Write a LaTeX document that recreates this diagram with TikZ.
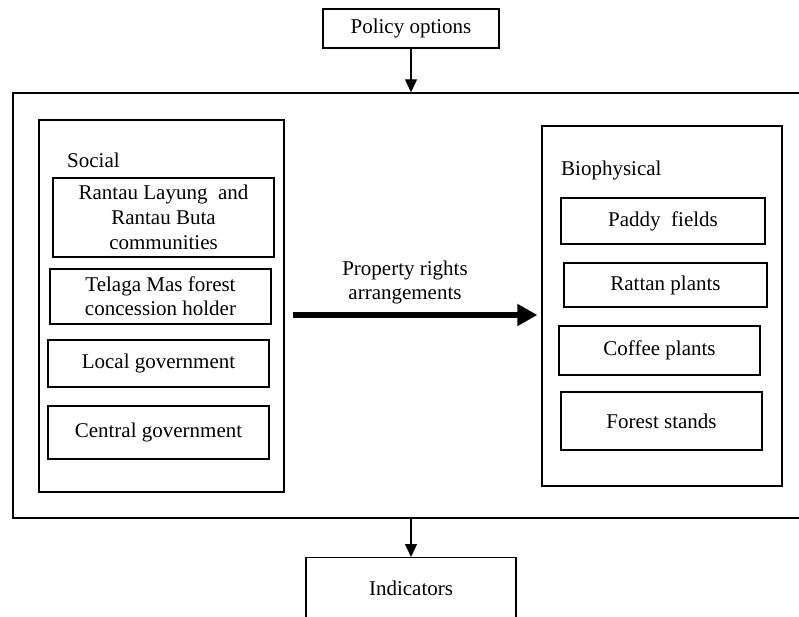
\documentclass[tikz,border=0pt]{standalone}
\usepackage{fontspec}
\setmainfont{Liberation Serif}
\usetikzlibrary{arrows.meta}
\begin{document}
\begin{tikzpicture}[x=1pt,y=-1pt,
  box/.style={draw, line width=1.4pt, inner sep=0pt, align=center,
    font=\fontsize{21}{25}\selectfont},
  txt/.style={inner sep=0pt, align=center, font=\fontsize{21}{24}\selectfont},
  arr/.style={line width=1.3pt, -{Triangle[length=13pt,width=12pt]}},
  bigarr/.style={line width=6pt, -{Triangle[length=20pt,width=21pt]}}]
\useasboundingbox (0,0) rectangle (799,617);

% top input and the enclosing frame
\node[box, minimum width=176pt, minimum height=39pt] (policy) at (411,28.5) {Policy options};
\node[box, minimum width=807pt, minimum height=425pt] (frame) at (416.5,305.5) {};
\draw[arr] (policy.south) -- (policy.south |- frame.north);

% social side
\node[box, minimum width=245pt, minimum height=372pt] (social) at (161.5,306) {};
\node[txt, anchor=west] (soclab) at (67,160) {Social};
\node[box, minimum width=221pt, minimum height=79pt] (rantau) at (163.5,217.5) {Rantau Layung\ \ and\\Rantau Buta\\communities};
\node[box, minimum width=221pt, minimum height=55pt, font=\fontsize{21}{24}\selectfont] (telaga) at (160.5,296.5) {Telaga Mas forest\\concession holder};
\node[box, minimum width=221pt, minimum height=47pt] (local) at (158.5,363.5) {Local government};
\node[box, minimum width=221pt, minimum height=53pt] (central) at (158.5,432.5) {Central government};

% biophysical side
\node[box, minimum width=240pt, minimum height=360pt] (bio) at (662,306) {};
\node[txt, anchor=west] (biolab) at (561,170) {Biophysical};
\node[box, minimum width=204pt, minimum height=46pt] (paddy) at (663,221) {Paddy\ \ fields};
\node[box, minimum width=203pt, minimum height=44pt] (rattan) at (665.5,285) {Rattan plants};
\node[box, minimum width=201pt, minimum height=49pt] (coffee) at (659.5,350.5) {Coffee plants};
\node[box, minimum width=201pt, minimum height=58pt] (forest) at (661.5,421) {Forest stands};

% link between the two sides
\coordinate (row) at (415,315);
\node[txt] (pra) at (405,282) {Property rights\\arrangements};
\draw[bigarr, shorten <=8pt, shorten >=4pt] (social.east |- row) -- (bio.west |- row);

% output
\node[box, minimum width=210pt, minimum height=90pt, anchor=north] (ind) at (411,557) {};
\node[txt] (indlab) at ([yshift=-31pt]ind.north) {Indicators};
\draw[arr] (ind.north |- frame.south) -- (ind.north);
\end{tikzpicture}
\end{document}
